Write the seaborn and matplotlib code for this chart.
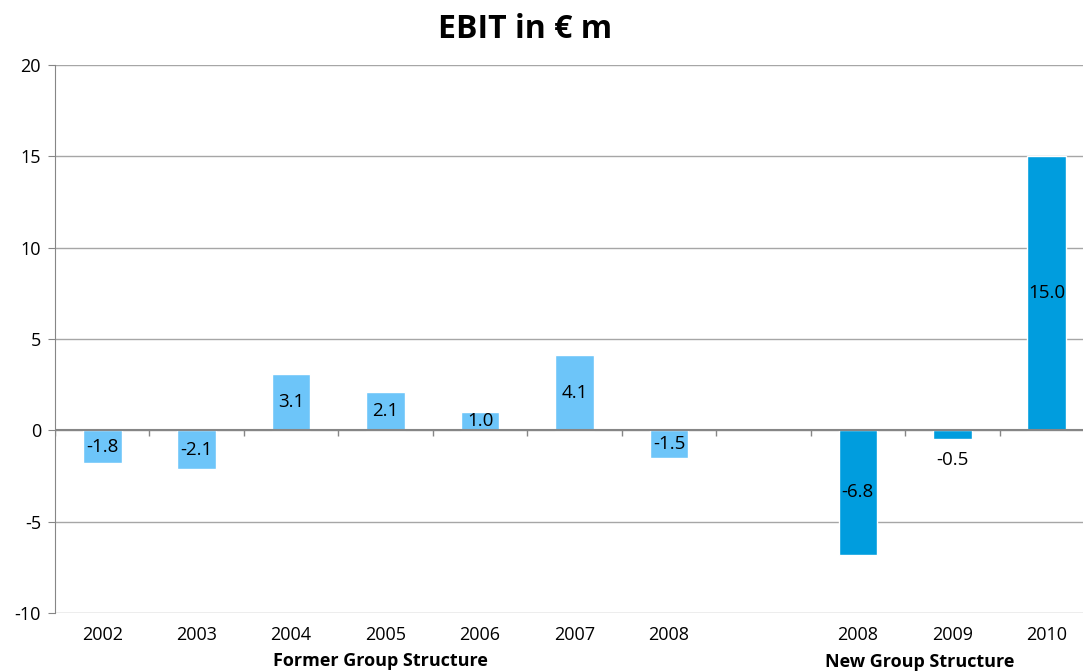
import pandas as pd
import numpy as np
import seaborn as sns
import matplotlib.pyplot as plt

# chart data
slots = ['2002', '2003', '2004', '2005', '2006', '2007', '2008a', 'gap', '2008b', '2009', '2010']
tick_labels = ['2002', '2003', '2004', '2005', '2006', '2007', '2008', '', '2008', '2009', '2010']
ebit = [-1.8, -2.1, 3.1, 2.1, 1.0, 4.1, -1.5, np.nan, -6.8, -0.5, 15.0]
groups = ['Former'] * 7 + ['Former'] + ['New'] * 3
label_y = [-0.9, -1.05, 1.55, 1.05, 0.5, 2.05, -0.75, np.nan, -3.4, -1.6, 7.5]

df = pd.DataFrame({'slot': slots, 'ebit': ebit, 'group': groups})

sns.set_style('white')
plt.rcParams['font.family'] = ['Open Sans', 'DejaVu Sans']
plt.rcParams['axes.unicode_minus'] = False
plt.rcParams['text.color'] = 'black'
plt.rcParams['xtick.color'] = 'black'
plt.rcParams['ytick.color'] = 'black'

fig = plt.figure(figsize=(10.83, 6.72), dpi=100)
ax = fig.add_axes([55 / 1083, 59 / 672, 1039 / 1083, 548 / 672])

sns.barplot(data=df, x='slot', y='ebit', hue='group', order=slots,
            palette={'Former': '#6DC5F9', 'New': '#009DDE'},
            dodge=False, width=0.41, legend=False, ax=ax, saturation=1)

ax.set_ylim(-10, 20)
ax.set_xlim(-0.5, len(slots) - 0.5)
ax.set_yticks(range(-10, 21, 5))
ax.yaxis.grid(True, color='#A6A6A6', linewidth=1)
ax.set_axisbelow(True)
for s in ['top', 'right', 'bottom']:
    ax.spines[s].set_visible(False)
ax.spines['left'].set_color('#868686')
ax.tick_params(axis='y', left=True, length=5, color='#868686', labelcolor='black',
               labelsize=13, pad=5)
ax.tick_params(axis='x', bottom=False, labelsize=13, labelcolor='black', pad=6)
ax.set_xticks(range(len(slots)))
ax.set_xticklabels(tick_labels)
ax.set_xlabel('')
ax.set_ylabel('')

# zero axis line with category boundary ticks
ax.axhline(0, color='#868686', linewidth=1.5, zorder=1)
ax.vlines(np.arange(len(slots) + 1) - 0.5, -0.3, 0, color='#868686', linewidth=1)

for i, (v, ly) in enumerate(zip(ebit, label_y)):
    if np.isnan(v):
        continue
    ax.text(i, ly, f'{v:.1f}', ha='center', va='center', fontsize=13.5, color='black')

fig.text(525 / 1083, 1 - 29 / 672, 'EBIT in € m', ha='center', va='center',
         fontsize=23, fontweight='bold')

fig.text(380 / 1083, 1 - 661 / 672, 'Former Group Structure', ha='center', va='center',
         fontsize=13, fontweight='bold')
fig.text(920 / 1083, 1 - 662 / 672, 'New Group Structure', ha='center', va='center',
         fontsize=13, fontweight='bold')

fig.savefig('out.png', dpi=100)
